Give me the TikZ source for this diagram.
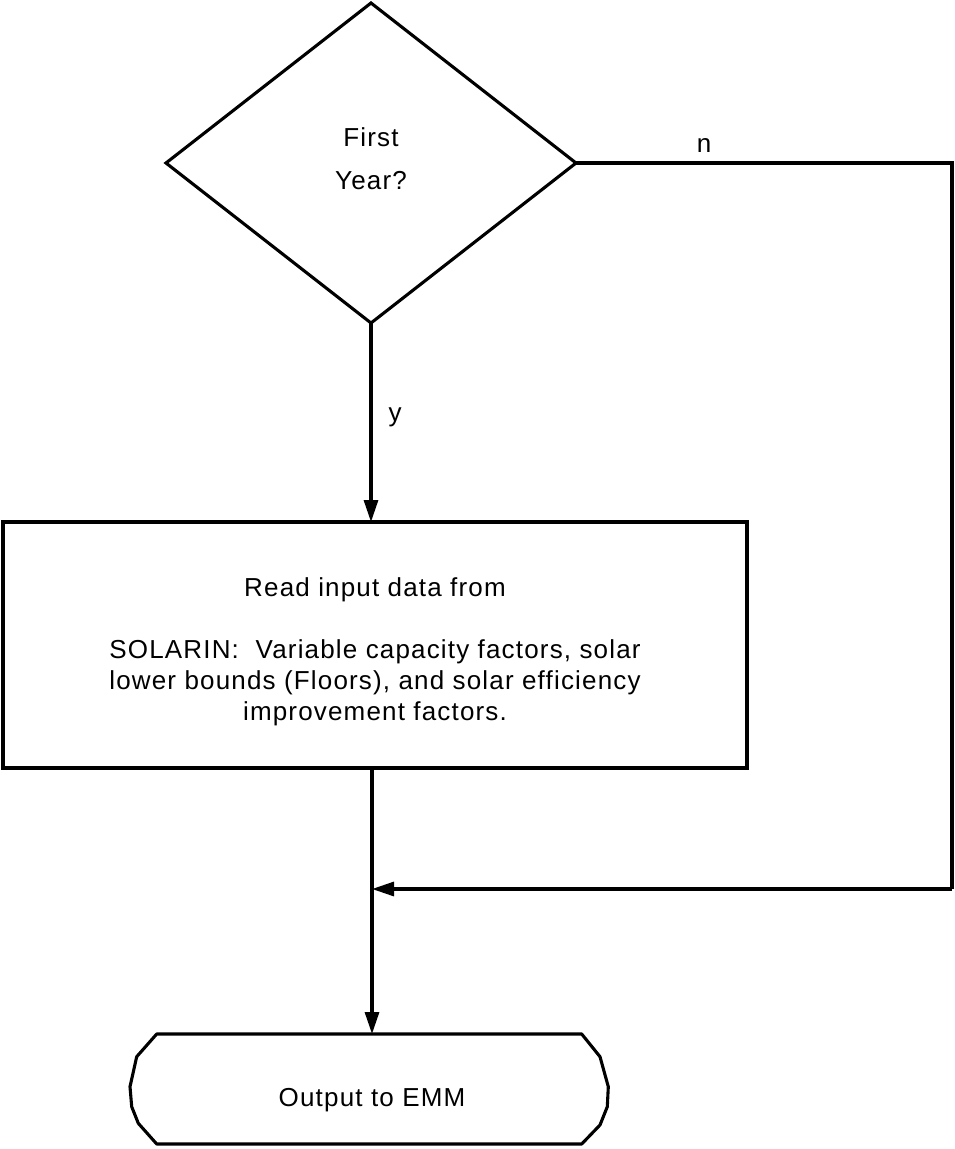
\documentclass[tikz,border=0pt]{standalone}
\usepackage{fontspec}
\setmainfont{Liberation Sans}[LetterSpace=4.5]
\usetikzlibrary{shapes.geometric,arrows.meta}
\begin{document}
\begin{tikzpicture}[x=1pt,y=-1pt,
  every node/.style={inner sep=0pt,outer sep=0pt},
  lw/.style={line width=3.1pt},
  txt/.style={font=\fontsize{26}{31}\selectfont,align=center},
  arr/.style={lw,-{Triangle[length=22pt,width=14pt]}},
  con/.style={lw}]
\useasboundingbox (0,0) rectangle (954,1149);
% decision
\node[diamond,draw,lw,minimum width=410pt,minimum height=320pt] (d) at (371,163) {};
\node[txt,font=\fontsize{26}{43}\selectfont] (dt) at (371,158.5) {First\\Year?};
% process box
\node[rectangle,draw,lw,minimum width=744pt,minimum height=246pt] (r) at (375,645) {};
\node[txt] (rt) at (375,651.5) {Read input data from\\[31pt]SOLARIN:\ \ Variable capacity factors, solar\\lower bounds (Floors), and solar efficiency\\improvement factors.};
% terminal
\node[rectangle,minimum width=425pt,minimum height=110pt] (o) at (369.5,1089) {};
\draw[lw,line join=round] (156.7,1034) -- (581.7,1034) -- (600,1056.7) -- (608.3,1086.7) -- (607.3,1106.7) -- (600,1125) -- (581.7,1144)
  -- (156.7,1144) -- (138.3,1123.3) -- (131.7,1106.7) -- (130,1086.7) -- (136.7,1056.7) -- cycle;
\node[txt,anchor=base] (ot) at (372,1106) {Output to EMM};
% coordinates
\coordinate (c1) at (952,163);
\coordinate (c2) at (952,889);
\coordinate (m) at (372,889);
% connectors
\draw[arr] (d.south) -- (d.south |- r.north);
\draw[con] (d.east) -- (c1) -- (c2);
\draw[arr] (c2) -- (m);
\draw[arr] (m |- r.south) -- (m |- o.north);
% labels
\node[txt,anchor=base] (ln) at (704,152) {n};
\node[txt,anchor=base] (ly) at (395,421) {y};
\end{tikzpicture}
\end{document}
